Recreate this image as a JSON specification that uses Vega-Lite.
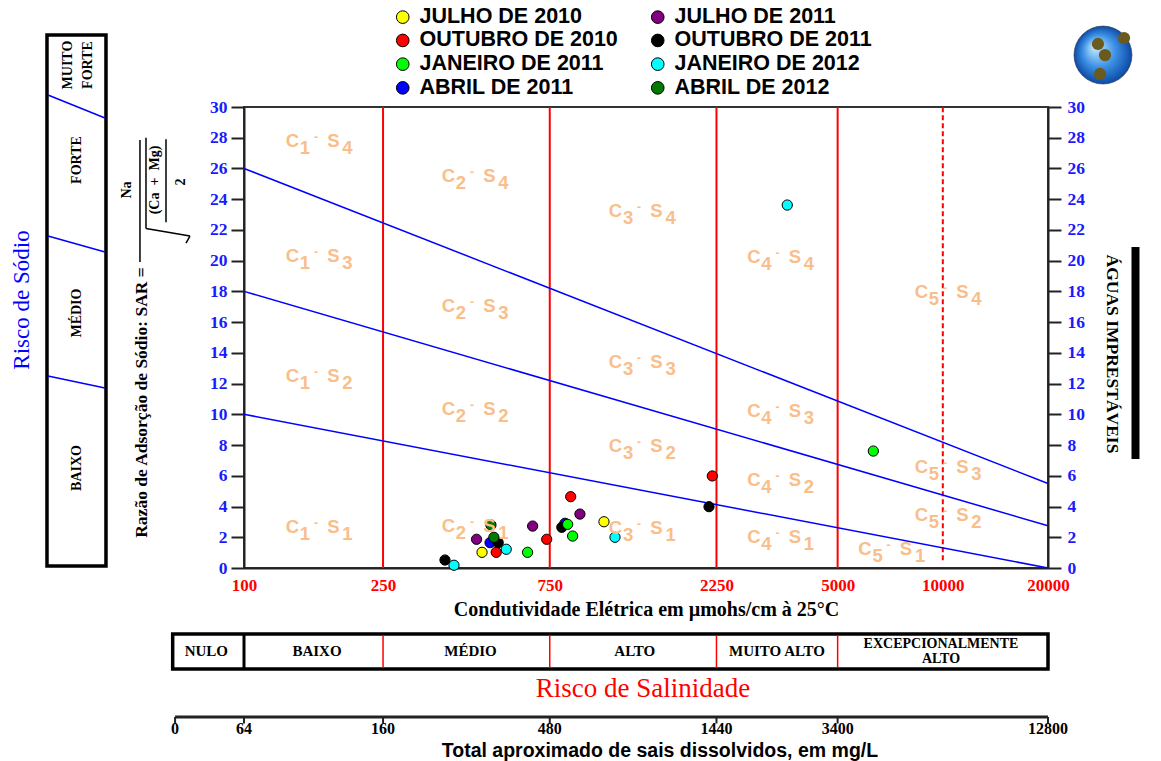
{
  "$schema": "https://vega.github.io/schema/vega-lite/v6.json",
  "width": 804,
  "height": 461,
  "autosize": {"type": "none"},
  "padding": {"left": 244, "top": 107, "right": 113, "bottom": 193},
  "background": "white",
  "config": {"view": {"stroke": "#333", "strokeWidth": 2}},
  "datasets": {
    "amostras": [
      {"ec": 480, "sar": 1.02, "campanha": "JULHO DE 2010"},
      {"ec": 1072, "sar": 3.01, "campanha": "JULHO DE 2010"},
      {"ec": 527, "sar": 1.02, "campanha": "OUTUBRO DE 2010"},
      {"ec": 735, "sar": 1.87, "campanha": "OUTUBRO DE 2010"},
      {"ec": 861, "sar": 4.64, "campanha": "OUTUBRO DE 2010"},
      {"ec": 2189, "sar": 5.99, "campanha": "OUTUBRO DE 2010"},
      {"ec": 506, "sar": 1.65, "campanha": "ABRIL DE 2011"},
      {"ec": 829, "sar": 2.91, "campanha": "ABRIL DE 2011"},
      {"ec": 463, "sar": 1.87, "campanha": "JULHO DE 2011"},
      {"ec": 670, "sar": 2.73, "campanha": "JULHO DE 2011"},
      {"ec": 915, "sar": 3.51, "campanha": "JULHO DE 2011"},
      {"ec": 376, "sar": 0.52, "campanha": "OUTUBRO DE 2011"},
      {"ec": 534, "sar": 1.65, "campanha": "OUTUBRO DE 2011"},
      {"ec": 812, "sar": 2.65, "campanha": "OUTUBRO DE 2011"},
      {"ec": 2142, "sar": 3.99, "campanha": "OUTUBRO DE 2011"},
      {"ec": 648, "sar": 1.02, "campanha": "JANEIRO DE 2011"},
      {"ec": 844, "sar": 2.84, "campanha": "JANEIRO DE 2011"},
      {"ec": 872, "sar": 2.08, "campanha": "JANEIRO DE 2011"},
      {"ec": 6326, "sar": 7.61, "campanha": "JANEIRO DE 2011"},
      {"ec": 399, "sar": 0.18, "campanha": "JANEIRO DE 2012"},
      {"ec": 563, "sar": 1.22, "campanha": "JANEIRO DE 2012"},
      {"ec": 1153, "sar": 2.0, "campanha": "JANEIRO DE 2012"},
      {"ec": 3588, "sar": 23.62, "campanha": "JANEIRO DE 2012"},
      {"ec": 509, "sar": 2.8, "campanha": "ABRIL DE 2012"},
      {"ec": 519, "sar": 2.0, "campanha": "ABRIL DE 2012"}
    ],
    "limites_sodio": [
      {"ec": 100, "sar": 26, "ec2": 20000, "sar2": 5.5},
      {"ec": 100, "sar": 18, "ec2": 20000, "sar2": 2.75},
      {"ec": 100, "sar": 10, "ec2": 20000, "sar2": 0}
    ],
    "limites_salinidade": [
      {"ec": 250, "sar": 0, "sar2": 30},
      {"ec": 750, "sar": 0, "sar2": 30},
      {"ec": 2250, "sar": 0, "sar2": 30},
      {"ec": 5000, "sar": 0, "sar2": 30}
    ],
    "zonas": [
      {"ec": 165.0, "sar": 27.40, "c": "1", "s": "4"},
      {"ec": 461.3, "sar": 25.12, "c": "2", "s": "4"},
      {"ec": 1386.7, "sar": 22.84, "c": "3", "s": "4"},
      {"ec": 3453, "sar": 19.85, "c": "4", "s": "4"},
      {"ec": 10416, "sar": 17.57, "c": "5", "s": "4"},
      {"ec": 165.0, "sar": 19.91, "c": "1", "s": "3"},
      {"ec": 461.3, "sar": 16.66, "c": "2", "s": "3"},
      {"ec": 1386.7, "sar": 13.01, "c": "3", "s": "3"},
      {"ec": 3453, "sar": 9.83, "c": "4", "s": "3"},
      {"ec": 10416, "sar": 6.18, "c": "5", "s": "3"},
      {"ec": 165.0, "sar": 12.10, "c": "1", "s": "2"},
      {"ec": 461.3, "sar": 9.96, "c": "2", "s": "2"},
      {"ec": 1386.7, "sar": 7.55, "c": "3", "s": "2"},
      {"ec": 3453, "sar": 5.34, "c": "4", "s": "2"},
      {"ec": 10416, "sar": 3.06, "c": "5", "s": "2"},
      {"ec": 165.0, "sar": 2.28, "c": "1", "s": "1"},
      {"ec": 461.3, "sar": 2.34, "c": "2", "s": "1"},
      {"ec": 1386.7, "sar": 2.21, "c": "3", "s": "1"},
      {"ec": 3453, "sar": 1.63, "c": "4", "s": "1"},
      {"ec": 7179, "sar": 0.85, "c": "5", "s": "1"}
    ],
    "classes_salinidade": [
      {"ec": 78.0, "sar": -5.42, "rotulo": "NULO"},
      {"ec": 161.8, "sar": -5.42, "rotulo": "BAIXO"},
      {"ec": 444.8, "sar": -5.42, "rotulo": "MÉDIO"},
      {"ec": 1313.7, "sar": -5.42, "rotulo": "ALTO"},
      {"ec": 3353, "sar": -5.42, "rotulo": "MUITO ALTO"}
    ],
    "sais_dissolvidos": [
      {"ec": 63.5, "tds": "0"},
      {"ec": 100, "tds": "64"},
      {"ec": 250, "tds": "160"},
      {"ec": 750, "tds": "480"},
      {"ec": 2250, "tds": "1440"},
      {"ec": 5000, "tds": "3400"},
      {"ec": 20000, "tds": "12800"}
    ],
    "classes_sodio": [
      {"ec": 31.35, "sar": 32.73, "rotulo": "MUITO\nFORTE"},
      {"ec": 33.27, "sar": 26.55, "rotulo": "FORTE"},
      {"ec": 33.27, "sar": 16.59, "rotulo": "MÉDIO"},
      {"ec": 33.27, "sar": 6.51, "rotulo": "BAIXO"}
    ],
    "divisas_sodio": [
      {"ec": 27.48, "sar": 30.78, "ec2": 40.01, "sar2": 29.28},
      {"ec": 27.48, "sar": 21.61, "ec2": 40.01, "sar2": 20.56},
      {"ec": 27.48, "sar": 12.49, "ec2": 40.01, "sar2": 11.71}
    ],
    "formula_texto": [
      {"ec": 46.26, "sar": 24.60, "txt": "Na"},
      {"ec": 55.64, "sar": 25.25, "txt": "(Ca\u00a0\u00a0+\u00a0\u00a0Mg)"},
      {"ec": 66.03, "sar": 25.12, "txt": "2"}
    ],
    "formula_tracos": [
      {"ec": 50.38, "sar": 27.85, "ec2": 50.38, "sar2": 19.91},
      {"ec": 59.81, "sar": 27.90, "ec2": 59.81, "sar2": 22.50},
      {"ec": 52.42, "sar": 28.00, "ec2": 52.42, "sar2": 22.10},
      {"ec": 52.42, "sar": 22.10, "ec2": 70.05, "sar2": 21.60},
      {"ec": 70.05, "sar": 21.60, "ec2": 68.23, "sar2": 21.14}
    ]
  },
  "layer": [
    {
      "data": {"name": "limites_salinidade"},
      "mark": {"type": "rule", "color": "#ff0000", "strokeWidth": 2},
      "encoding": {
        "x": {"field": "ec", "type": "quantitative", "scale": {"type": "log", "domain": [100, 20000], "nice": false}, "axis": null},
        "y": {"field": "sar", "type": "quantitative", "scale": {"domain": [0, 30], "nice": false, "zero": false}, "axis": null},
        "y2": {"field": "sar2"}
      }
    },
    {
      "data": {"values": [{"ec": 10000, "sar": 0.5, "sar2": 30}]},
      "mark": {"type": "rule", "color": "#ff0000", "strokeWidth": 2, "strokeDash": [5, 3]},
      "encoding": {
        "x": {"field": "ec", "type": "quantitative", "scale": {"type": "log", "domain": [100, 20000], "nice": false}, "axis": null},
        "y": {"field": "sar", "type": "quantitative", "scale": {"domain": [0, 30], "nice": false, "zero": false}, "axis": null},
        "y2": {"field": "sar2"}
      }
    },
    {
      "data": {"name": "limites_sodio"},
      "mark": {"type": "rule", "color": "#0000ff", "strokeWidth": 1.5},
      "encoding": {
        "x": {"field": "ec", "type": "quantitative", "scale": {"type": "log", "domain": [100, 20000], "nice": false}, "axis": null},
        "y": {
          "field": "sar", "type": "quantitative",
          "scale": {"domain": [0, 30], "nice": false, "zero": false},
          "axis": {
            "orient": "right", "title": null,
            "values": [0, 2, 4, 6, 8, 10, 12, 14, 16, 18, 20, 22, 24, 26, 28, 30],
            "grid": false, "tickSize": 13, "tickWidth": 2, "tickColor": "#222",
            "domainColor": "#222", "domainWidth": 2,
            "labelColor": "#1a1aff", "labelFont": "Liberation Serif", "labelFontWeight": "bold",
            "labelFontSize": 17.5, "labelPadding": 6
          }
        },
        "x2": {"field": "ec2"},
        "y2": {"field": "sar2"}
      }
    },
    {
      "data": {"name": "amostras"},
      "mark": {"type": "point", "filled": true, "size": 105, "stroke": "black", "strokeWidth": 1, "opacity": 1},
      "encoding": {
        "x": {
          "field": "ec", "type": "quantitative",
          "scale": {"type": "log", "domain": [100, 20000], "nice": false},
          "axis": {
            "orient": "bottom",
            "values": [100, 250, 750, 2250, 5000, 10000, 20000],
            "format": "d", "grid": false, "ticks": false,
            "domainColor": "#222", "domainWidth": 2,
            "labelColor": "#ff0000", "labelFont": "Liberation Serif", "labelFontWeight": "bold",
            "labelFontSize": 17, "labelPadding": 9, "labelOverlap": false, "labelFlush": false, "labelBound": false,
            "title": "Condutividade Elétrica em µmohs/cm à 25°C",
            "titleFont": "Liberation Serif", "titleFontWeight": "bold", "titleFontSize": 20,
            "titleColor": "black", "titlePadding": 6
          }
        },
        "y": {
          "field": "sar", "type": "quantitative",
          "scale": {"domain": [0, 30], "nice": false, "zero": false},
          "axis": {
            "orient": "left",
            "values": [0, 2, 4, 6, 8, 10, 12, 14, 16, 18, 20, 22, 24, 26, 28, 30],
            "grid": false, "tickSize": 13, "tickWidth": 2, "tickColor": "#222",
            "domainColor": "#222", "domainWidth": 2,
            "labelColor": "#1a1aff", "labelFont": "Liberation Serif", "labelFontWeight": "bold",
            "labelFontSize": 17.5, "labelPadding": 4,
            "title": "Razão de Adsorção de Sódio: SAR =",
            "titleFont": "Liberation Serif", "titleFontWeight": "bold", "titleFontSize": 17.5,
            "titleColor": "black", "titleAngle": 270, "titleX": -103, "titleY": 295,
            "titleAlign": "center", "titleBaseline": "middle"
          }
        },
        "color": {
          "field": "campanha", "type": "nominal",
          "scale": {
            "domain": ["JULHO DE 2010", "OUTUBRO DE 2010", "JANEIRO DE 2011", "ABRIL DE 2011", "JULHO DE 2011", "OUTUBRO DE 2011", "JANEIRO DE 2012", "ABRIL DE 2012"],
            "range": ["#ffff00", "#ff0000", "#00ff00", "#0000ff", "#800080", "#000000", "#00ffff", "#007a00"]
          },
          "legend": {
            "orient": "none", "legendX": 148, "legendY": -101,
            "columns": 2, "title": null, "padding": 0,
            "symbolType": "circle", "symbolSize": 160, "symbolStrokeColor": "black", "symbolStrokeWidth": 1, "symbolOpacity": 1,
            "labelFont": "Liberation Sans", "labelFontWeight": "bold", "labelFontSize": 21.5, "labelColor": "black",
            "labelOffset": 6, "labelLimit": 0, "rowPadding": 0.7, "columnPadding": 29
          }
        }
      }
    },
    {
      "data": {"name": "zonas"},
      "mark": {"type": "text", "font": "Liberation Sans", "fontWeight": "bold", "fontSize": 18.5, "color": "#f9be8a", "align": "center", "baseline": "alphabetic", "dx": -27.5},
      "encoding": {
        "x": {"field": "ec", "type": "quantitative", "scale": {"type": "log", "domain": [100, 20000], "nice": false}, "axis": null},
        "y": {"field": "sar", "type": "quantitative", "scale": {"domain": [0, 30], "nice": false, "zero": false}, "axis": null},
        "text": {"value": "C"}
      }
    },
    {
      "data": {"name": "zonas"},
      "mark": {"type": "text", "font": "Liberation Sans", "fontWeight": "bold", "fontSize": 18.5, "color": "#f9be8a", "align": "center", "baseline": "alphabetic", "dx": -15, "dy": 6.7},
      "encoding": {
        "x": {"field": "ec", "type": "quantitative", "scale": {"type": "log", "domain": [100, 20000], "nice": false}, "axis": null},
        "y": {"field": "sar", "type": "quantitative", "scale": {"domain": [0, 30], "nice": false, "zero": false}, "axis": null},
        "text": {"field": "c"}
      }
    },
    {
      "data": {"name": "zonas"},
      "mark": {"type": "text", "font": "Liberation Sans", "fontWeight": "bold", "fontSize": 12, "color": "#f9be8a", "align": "center", "baseline": "alphabetic", "dx": -4, "dy": -6},
      "encoding": {
        "x": {"field": "ec", "type": "quantitative", "scale": {"type": "log", "domain": [100, 20000], "nice": false}, "axis": null},
        "y": {"field": "sar", "type": "quantitative", "scale": {"domain": [0, 30], "nice": false, "zero": false}, "axis": null},
        "text": {"value": "-"}
      }
    },
    {
      "data": {"name": "zonas"},
      "mark": {"type": "text", "font": "Liberation Sans", "fontWeight": "bold", "fontSize": 18.5, "color": "#f9be8a", "align": "center", "baseline": "alphabetic", "dx": 13.5},
      "encoding": {
        "x": {"field": "ec", "type": "quantitative", "scale": {"type": "log", "domain": [100, 20000], "nice": false}, "axis": null},
        "y": {"field": "sar", "type": "quantitative", "scale": {"domain": [0, 30], "nice": false, "zero": false}, "axis": null},
        "text": {"value": "S"}
      }
    },
    {
      "data": {"name": "zonas"},
      "mark": {"type": "text", "font": "Liberation Sans", "fontWeight": "bold", "fontSize": 18.5, "color": "#f9be8a", "align": "center", "baseline": "alphabetic", "dx": 27.5, "dy": 6.7},
      "encoding": {
        "x": {"field": "ec", "type": "quantitative", "scale": {"type": "log", "domain": [100, 20000], "nice": false}, "axis": null},
        "y": {"field": "sar", "type": "quantitative", "scale": {"domain": [0, 30], "nice": false, "zero": false}, "axis": null},
        "text": {"field": "s"}
      }
    },
    {
      "data": {"values": [{"ec": 27.30, "sar": 34.69, "ec2": 40.27, "sar2": 0.13}]},
      "mark": {"type": "rect", "fill": "white", "fillOpacity": 0, "stroke": "black", "strokeWidth": 3.5},
      "encoding": {
        "x": {"field": "ec", "type": "quantitative", "scale": {"type": "log", "domain": [100, 20000], "nice": false}, "axis": null},
        "y": {"field": "sar", "type": "quantitative", "scale": {"domain": [0, 30], "nice": false, "zero": false}, "axis": null},
        "x2": {"field": "ec2"},
        "y2": {"field": "sar2"}
      }
    },
    {
      "data": {"name": "divisas_sodio"},
      "mark": {"type": "rule", "color": "#0000ff", "strokeWidth": 1.5},
      "encoding": {
        "x": {"field": "ec", "type": "quantitative", "scale": {"type": "log", "domain": [100, 20000], "nice": false}, "axis": null},
        "y": {"field": "sar", "type": "quantitative", "scale": {"domain": [0, 30], "nice": false, "zero": false}, "axis": null},
        "x2": {"field": "ec2"},
        "y2": {"field": "sar2"}
      }
    },
    {
      "data": {"name": "classes_sodio"},
      "mark": {"type": "text", "font": "Liberation Serif", "fontWeight": "bold", "fontSize": 14, "color": "black", "angle": 270, "align": "center", "baseline": "middle", "lineBreak": "\n", "lineHeight": 20},
      "encoding": {
        "x": {"field": "ec", "type": "quantitative", "scale": {"type": "log", "domain": [100, 20000], "nice": false}, "axis": null},
        "y": {"field": "sar", "type": "quantitative", "scale": {"domain": [0, 30], "nice": false, "zero": false}, "axis": null},
        "text": {"field": "rotulo"}
      }
    },
    {
      "data": {"values": [{"ec": 23.15, "sar": 17.44, "txt": "Risco de Sódio"}]},
      "mark": {"type": "text", "font": "Liberation Serif", "fontSize": 23, "color": "#0000ff", "angle": 270, "align": "center", "baseline": "middle"},
      "encoding": {
        "x": {"field": "ec", "type": "quantitative", "scale": {"type": "log", "domain": [100, 20000], "nice": false}, "axis": null},
        "y": {"field": "sar", "type": "quantitative", "scale": {"domain": [0, 30], "nice": false, "zero": false}, "axis": null},
        "text": {"field": "txt"}
      }
    },
    {
      "data": {"name": "formula_texto"},
      "mark": {"type": "text", "font": "Liberation Serif", "fontWeight": "bold", "fontSize": 14, "color": "black", "angle": 270, "align": "center", "baseline": "middle"},
      "encoding": {
        "x": {"field": "ec", "type": "quantitative", "scale": {"type": "log", "domain": [100, 20000], "nice": false}, "axis": null},
        "y": {"field": "sar", "type": "quantitative", "scale": {"domain": [0, 30], "nice": false, "zero": false}, "axis": null},
        "text": {"field": "txt"}
      }
    },
    {
      "data": {"name": "formula_tracos"},
      "mark": {"type": "rule", "color": "black", "strokeWidth": 1.5},
      "encoding": {
        "x": {"field": "ec", "type": "quantitative", "scale": {"type": "log", "domain": [100, 20000], "nice": false}, "axis": null},
        "y": {"field": "sar", "type": "quantitative", "scale": {"domain": [0, 30], "nice": false, "zero": false}, "axis": null},
        "x2": {"field": "ec2"},
        "y2": {"field": "sar2"}
      }
    },
    {
      "data": {"values": [{"ec": 30499, "sar": 13.93, "txt": "ÁGUAS IMPRESTÁVEIS"}]},
      "mark": {"type": "text", "font": "Liberation Serif", "fontWeight": "bold", "fontSize": 17.5, "color": "black", "angle": 90, "align": "center", "baseline": "middle"},
      "encoding": {
        "x": {"field": "ec", "type": "quantitative", "scale": {"type": "log", "domain": [100, 20000], "nice": false}, "axis": null},
        "y": {"field": "sar", "type": "quantitative", "scale": {"domain": [0, 30], "nice": false, "zero": false}, "axis": null},
        "text": {"field": "txt"}
      }
    },
    {
      "data": {"values": [{"ec": 34674, "sar": 20.89, "ec2": 36550, "sar2": 7.09}]},
      "mark": {"type": "rect", "color": "black"},
      "encoding": {
        "x": {"field": "ec", "type": "quantitative", "scale": {"type": "log", "domain": [100, 20000], "nice": false}, "axis": null},
        "y": {"field": "sar", "type": "quantitative", "scale": {"domain": [0, 30], "nice": false, "zero": false}, "axis": null},
        "x2": {"field": "ec2"},
        "y2": {"field": "sar2"}
      }
    },
    {
      "data": {"values": [{"ec": 62.5, "sar": -4.295, "ec2": 20000, "sar2": -6.573}]},
      "mark": {"type": "rect", "fill": "white", "fillOpacity": 0, "stroke": "black", "strokeWidth": 3.5},
      "encoding": {
        "x": {"field": "ec", "type": "quantitative", "scale": {"type": "log", "domain": [100, 20000], "nice": false}, "axis": null},
        "y": {"field": "sar", "type": "quantitative", "scale": {"domain": [0, 30], "nice": false, "zero": false}, "axis": null},
        "x2": {"field": "ec2"},
        "y2": {"field": "sar2"}
      }
    },
    {
      "data": {"values": [{"ec": 100, "sar": -4.295, "sar2": -6.573}]},
      "mark": {"type": "rule", "color": "black", "strokeWidth": 3},
      "encoding": {
        "x": {"field": "ec", "type": "quantitative", "scale": {"type": "log", "domain": [100, 20000], "nice": false}, "axis": null},
        "y": {"field": "sar", "type": "quantitative", "scale": {"domain": [0, 30], "nice": false, "zero": false}, "axis": null},
        "y2": {"field": "sar2"}
      }
    },
    {
      "data": {"values": [{"ec": 250, "sar": -4.4, "sar2": -6.47}, {"ec": 750, "sar": -4.4, "sar2": -6.47}, {"ec": 2250, "sar": -4.4, "sar2": -6.47}, {"ec": 5000, "sar": -4.4, "sar2": -6.47}]},
      "mark": {"type": "rule", "color": "#ff0000", "strokeWidth": 1.5},
      "encoding": {
        "x": {"field": "ec", "type": "quantitative", "scale": {"type": "log", "domain": [100, 20000], "nice": false}, "axis": null},
        "y": {"field": "sar", "type": "quantitative", "scale": {"domain": [0, 30], "nice": false, "zero": false}, "axis": null},
        "y2": {"field": "sar2"}
      }
    },
    {
      "data": {"name": "classes_salinidade"},
      "mark": {"type": "text", "font": "Liberation Serif", "fontWeight": "bold", "fontSize": 15, "color": "black", "align": "center", "baseline": "middle"},
      "encoding": {
        "x": {"field": "ec", "type": "quantitative", "scale": {"type": "log", "domain": [100, 20000], "nice": false}, "axis": null},
        "y": {"field": "sar", "type": "quantitative", "scale": {"domain": [0, 30], "nice": false, "zero": false}, "axis": null},
        "text": {"field": "rotulo"}
      }
    },
    {
      "data": {"values": [{"ec": 9881, "sar": -4.95, "rotulo": "EXCEPCIONALMENTE\nALTO"}]},
      "mark": {"type": "text", "font": "Liberation Serif", "fontWeight": "bold", "fontSize": 14, "color": "black", "align": "center", "baseline": "middle", "lineBreak": "\n", "lineHeight": 14.5},
      "encoding": {
        "x": {"field": "ec", "type": "quantitative", "scale": {"type": "log", "domain": [100, 20000], "nice": false}, "axis": null},
        "y": {"field": "sar", "type": "quantitative", "scale": {"domain": [0, 30], "nice": false, "zero": false}, "axis": null},
        "text": {"field": "rotulo"}
      }
    },
    {
      "data": {"values": [{"ec": 1386.7, "sar": -7.874, "txt": "Risco de Salinidade"}]},
      "mark": {"type": "text", "font": "Liberation Serif", "fontSize": 27, "color": "#ff0000", "align": "center", "baseline": "middle"},
      "encoding": {
        "x": {"field": "ec", "type": "quantitative", "scale": {"type": "log", "domain": [100, 20000], "nice": false}, "axis": null},
        "y": {"field": "sar", "type": "quantitative", "scale": {"domain": [0, 30], "nice": false, "zero": false}, "axis": null},
        "text": {"field": "txt"}
      }
    },
    {
      "data": {"values": [{"ec": 63.5, "ec2": 20000, "sar": -9.696}]},
      "mark": {"type": "rule", "color": "#222", "strokeWidth": 3},
      "encoding": {
        "x": {"field": "ec", "type": "quantitative", "scale": {"type": "log", "domain": [100, 20000], "nice": false}, "axis": null},
        "y": {"field": "sar", "type": "quantitative", "scale": {"domain": [0, 30], "nice": false, "zero": false}, "axis": null},
        "x2": {"field": "ec2"}
      }
    },
    {
      "data": {"name": "sais_dissolvidos"},
      "mark": {"type": "rule", "color": "#222", "strokeWidth": 2},
      "encoding": {
        "x": {"field": "ec", "type": "quantitative", "scale": {"type": "log", "domain": [100, 20000], "nice": false}, "axis": null},
        "y": {"datum": -9.696, "type": "quantitative", "scale": {"domain": [0, 30], "nice": false, "zero": false}, "axis": null},
        "y2": {"datum": -10.12}
      }
    },
    {
      "data": {"name": "sais_dissolvidos"},
      "mark": {"type": "text", "font": "Liberation Serif", "fontWeight": "bold", "fontSize": 16, "color": "black", "align": "center", "baseline": "middle"},
      "encoding": {
        "x": {"field": "ec", "type": "quantitative", "scale": {"type": "log", "domain": [100, 20000], "nice": false}, "axis": null},
        "y": {"datum": -10.48, "type": "quantitative", "scale": {"domain": [0, 30], "nice": false, "zero": false}, "axis": null},
        "text": {"field": "tds"}
      }
    },
    {
      "data": {"values": [{"ec": 1550.5, "sar": -11.93, "txt": "Total aproximado de sais dissolvidos, em mg/L"}]},
      "mark": {"type": "text", "font": "Liberation Sans", "fontWeight": "bold", "fontSize": 19.5, "color": "black", "align": "center", "baseline": "middle"},
      "encoding": {
        "x": {"field": "ec", "type": "quantitative", "scale": {"type": "log", "domain": [100, 20000], "nice": false}, "axis": null},
        "y": {"field": "sar", "type": "quantitative", "scale": {"domain": [0, 30], "nice": false, "zero": false}, "axis": null},
        "text": {"field": "txt"}
      }
    },
    {
      "data": {"values": [{"ec": 28733, "sar": 33.38}]},
      "mark": {
        "type": "point", "shape": "circle", "filled": true, "size": 3364, "opacity": 1,
        "stroke": "#334", "strokeWidth": 0.6,
        "fill": {"gradient": "radial", "x1": 0.35, "y1": 0.35, "r1": 0, "x2": 0.5, "y2": 0.5, "r2": 0.5,
          "stops": [{"offset": 0, "color": "#cdeeff"}, {"offset": 0.55, "color": "#3f93e6"}, {"offset": 1, "color": "#0b4aa6"}]}
      },
      "encoding": {
        "x": {"field": "ec", "type": "quantitative", "scale": {"type": "log", "domain": [100, 20000], "nice": false}, "axis": null},
        "y": {"field": "sar", "type": "quantitative", "scale": {"domain": [0, 30], "nice": false, "zero": false}, "axis": null}
      }
    },
    {
      "data": {"values": [{"ec": 27800, "sar": 34.10}, {"ec": 29120, "sar": 33.38}, {"ec": 33010, "sar": 34.49}, {"ec": 28170, "sar": 32.15}]},
      "mark": {"type": "point", "shape": "circle", "filled": true, "size": 150, "opacity": 1, "color": "#6b5a1e"},
      "encoding": {
        "x": {"field": "ec", "type": "quantitative", "scale": {"type": "log", "domain": [100, 20000], "nice": false}, "axis": null},
        "y": {"field": "sar", "type": "quantitative", "scale": {"domain": [0, 30], "nice": false, "zero": false}, "axis": null}
      }
    }
  ],
  "resolve": {"axis": {"x": "independent", "y": "independent"}}
}
